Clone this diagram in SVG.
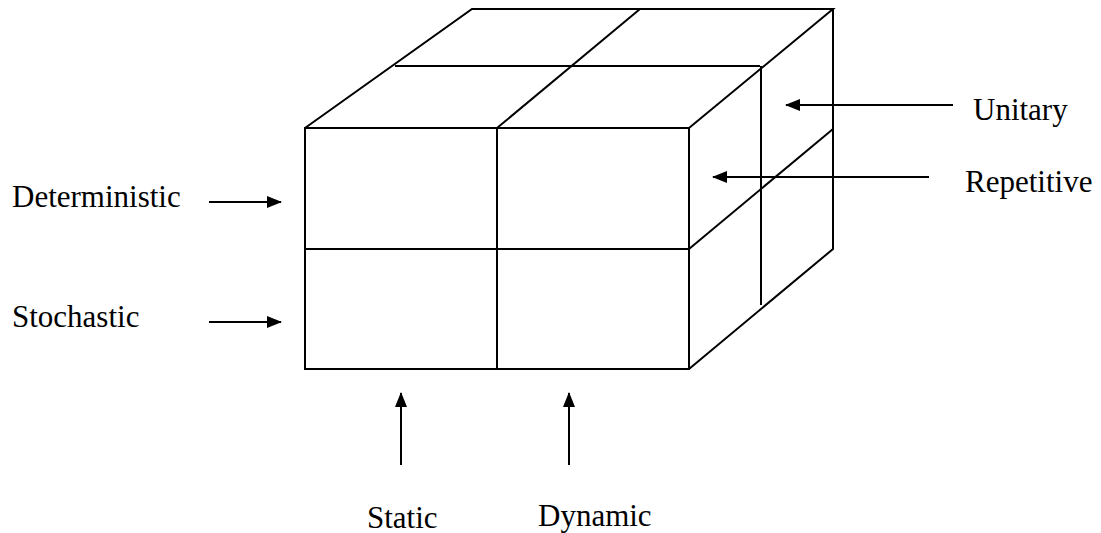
<svg xmlns="http://www.w3.org/2000/svg" width="1101" height="533" viewBox="0 0 1101 533">
<style>
.l{stroke:#000;stroke-width:2;fill:none}
.a{stroke:#000;stroke-width:2;fill:none;marker-end:url(#ah)}
text{font-family:"Liberation Serif","Times New Roman",serif;font-size:31px;fill:#000}
</style>
<defs>
<marker id="ah" markerWidth="15" markerHeight="12" refX="14" refY="6" orient="auto" markerUnits="userSpaceOnUse">
<path d="M0,0 L15,6 L0,12 Z" fill="#000"/>
</marker>
</defs>
<rect width="1101" height="533" fill="#fff"/>
<g id="cube">
<rect class="l" x="305" y="128" width="384" height="241"/>
<line class="l" x1="305" y1="249" x2="689" y2="249"/>
<line class="l" x1="497" y1="128" x2="497" y2="369"/>
<polyline class="l" points="305,128 472,9 833,9 689,128"/>
<line class="l" x1="497" y1="128" x2="640" y2="9"/>
<line class="l" x1="395" y1="66" x2="760" y2="66"/>
<polyline class="l" points="833,9 833,249 689,369"/>
<line class="l" x1="689" y1="249" x2="833" y2="129"/>
<line class="l" x1="761" y1="66" x2="761" y2="305"/>
</g>
<g id="labels">
<text id="deterministic" x="12" y="207">Deterministic</text>
<text id="stochastic" x="12" y="327">Stochastic</text>
<text id="static" x="367" y="528">Static</text>
<text id="dynamic" x="538" y="526">Dynamic</text>
<text id="unitary" x="973" y="120">Unitary</text>
<text id="repetitive" x="965" y="192">Repetitive</text>
</g>
<g id="connectors">
<line class="a" x1="209" y1="202" x2="281" y2="202"/>
<line class="a" x1="209" y1="322" x2="281" y2="322"/>
<line class="a" x1="401" y1="465" x2="401" y2="393"/>
<line class="a" x1="569" y1="465" x2="569" y2="393"/>
<line class="a" x1="953" y1="105" x2="786" y2="105"/>
<line class="a" x1="929" y1="177" x2="713" y2="177"/>
</g>
</svg>
